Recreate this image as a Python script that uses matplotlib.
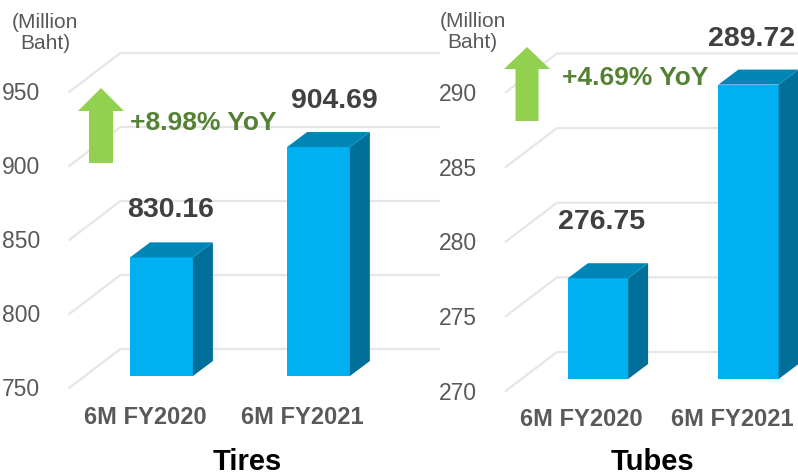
import matplotlib.pyplot as plt
from matplotlib.patches import Polygon

plt.rcParams['font.family'] = ['Liberation Sans', 'DejaVu Sans']

# data
categories = ['6M FY2020', '6M FY2021']
tires = [830.16, 904.69]
tubes = [276.75, 289.72]
tires_ticks = [750, 800, 850, 900, 950]
tubes_ticks = [270, 275, 280, 285, 290]
tires_yoy = '+8.98% YoY'
tubes_yoy = '+4.69% YoY'

W, H = 798, 476
FRONT = '#00B0F0'
SIDE = '#00709A'
TOP = '#0086B6'
GRID = '#E6E6E6'
GREY = '#595959'

fig = plt.figure(figsize=(W / 100, H / 100), dpi=100)


def fig_px(x, y):
    return x / W, 1 - y / H


def panel(x0, x1, cx0, step, base, base_px, ppu, values, ticks, lbl_off):
    ax = fig.add_axes([x0 / W, 0, (x1 - x0) / W, 1])
    ax.set_xlim((x0 - cx0) / step, (x1 - cx0) / step)
    ax.set_ylim(base - (H - base_px) / ppu, base + base_px / ppu)
    ax.axis('off')
    ax.patch.set_alpha(0)

    px = lambda d: d / step   # pixels -> category units
    py = lambda d: d / ppu    # pixels -> value units

    # slanted 3d gridlines
    xmax = ax.get_xlim()[1]
    for t in ticks:
        ax.plot([px(-93), px(-41), xmax],
                [t - py(12.5), t + py(27), t + py(27)],
                color=GRID, lw=1.6, zorder=1, solid_capstyle='butt')
        ax.text(px(-121), t - py(14), str(t), ha='right', va='center',
                fontsize=16.5, color=GREY)

    # 3d bars
    w = 0.4
    dx, dy = px(20), py(15)
    for i, v in enumerate(values):
        l, r = i - w / 2, i + w / 2
        ax.add_patch(Polygon([(l, base), (r, base), (r, v), (l, v)],
                             closed=True, fc=FRONT, ec='none', zorder=3))
        ax.add_patch(Polygon([(r, base), (r + dx, base + dy), (r + dx, v + dy), (r, v)],
                             closed=True, fc=SIDE, ec='none', zorder=3))
        ax.add_patch(Polygon([(l, v), (l + dx, v + dy), (r + dx, v + dy), (r, v)],
                             closed=True, fc=TOP, ec='none', zorder=3))
        ox, oy = lbl_off[i]
        ax.text(i + px(ox), v + py(oy), f'{v:.2f}', ha='center', va='baseline',
                fontsize=20.5, fontweight='bold', color='#404040', zorder=4)
        ax.text(i - px(16.5), base - py(41), categories[i], ha='center', va='center',
                fontsize=17, fontweight='bold', color=GREY)
    return ax


def arrow(tx, ty, hw, hb, sw, bottom):
    pts = [(tx, ty), (tx + hw, hb), (tx + sw, hb), (tx + sw, bottom),
           (tx - sw, bottom), (tx - sw, hb), (tx - hw, hb)]
    fig.patches.append(Polygon([fig_px(x, y) for x, y in pts], closed=True,
                               fc='#92D050', ec='none', transform=fig.transFigure))


panel(0, 440, 161.5, 157, 750, 376, 1.48, tires, tires_ticks,
      [(9.5, 40), (15.5, 39)])
panel(400, 798, 598, 150.5, 270, 379, 14.93, tubes, tubes_ticks,
      [(4, 49), (3.5, 39)])

arrow(101, 88, 23, 111, 12, 163)
arrow(527, 47, 23, 69, 11.5, 121)

fig.text(*fig_px(130, 123), tires_yoy, ha='left', va='center', fontsize=19,
         fontweight='bold', color='#548235')
fig.text(*fig_px(562, 78), tubes_yoy, ha='left', va='center', fontsize=19,
         fontweight='bold', color='#548235')

fig.text(*fig_px(45, 33), '(Million\nBaht)', ha='center', va='center',
         fontsize=15, color=GREY, linespacing=1.1)
fig.text(*fig_px(472.5, 32), '(Million\nBaht)', ha='center', va='center',
         fontsize=15, color=GREY, linespacing=1.1)

fig.text(*fig_px(247, 476), 'Tires', ha='center', va='bottom',
         fontsize=21, fontweight='bold', color='black')
fig.text(*fig_px(652, 476), 'Tubes', ha='center', va='bottom',
         fontsize=21, fontweight='bold', color='black')

fig.savefig('out.png', dpi=100)
